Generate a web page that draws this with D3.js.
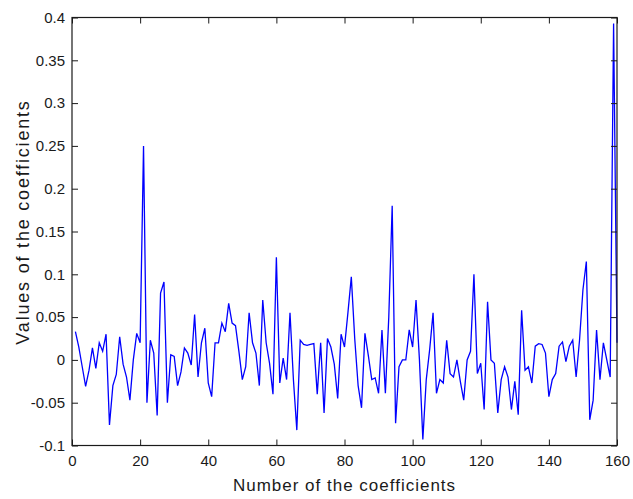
<!DOCTYPE html>
<html><head><meta charset="utf-8">
<script src="https://cdn.jsdelivr.net/npm/d3@7/dist/d3.min.js"></script>
<style>body{margin:0;background:#fff;}</style>
</head><body>
<svg id="chart" width="633" height="499"></svg>
<script>
// Coefficient values, index 1..160
const coefValues = [
 0.033, 0.015,-0.008,-0.031,-0.012, 0.014,-0.010, 0.020, 0.010, 0.030,
-0.076,-0.030,-0.017, 0.027,-0.005,-0.020,-0.047, 0.000, 0.031, 0.020,
 0.250,-0.050, 0.023, 0.008,-0.065, 0.078, 0.091,-0.050, 0.006, 0.004,
-0.030,-0.014, 0.014, 0.008,-0.006, 0.053,-0.020, 0.020, 0.037,-0.027,
-0.043, 0.020, 0.020, 0.043, 0.033, 0.066, 0.043, 0.040, 0.010,-0.023,
-0.008, 0.055, 0.020, 0.008,-0.030, 0.070, 0.020,-0.004,-0.040, 0.120,
-0.027, 0.002,-0.023, 0.055,-0.023,-0.082, 0.023, 0.018, 0.017, 0.018,
 0.019,-0.040, 0.020,-0.062, 0.025, 0.015,-0.005,-0.045, 0.030, 0.015,
 0.055, 0.097, 0.025,-0.030,-0.056, 0.031, 0.005,-0.023,-0.021,-0.039,
 0.035,-0.039, 0.050, 0.180,-0.074,-0.008, 0.000, 0.000, 0.035, 0.015,
 0.070, 0.000,-0.093,-0.023, 0.012, 0.055,-0.039,-0.023,-0.027, 0.023,
-0.016,-0.020, 0.000,-0.025,-0.047, 0.000, 0.010, 0.100,-0.016,-0.004,
-0.058, 0.068, 0.000,-0.004,-0.062,-0.023,-0.008,-0.020,-0.058,-0.025,
-0.064, 0.058,-0.012,-0.008,-0.027, 0.016, 0.019, 0.018, 0.008,-0.043,
-0.023,-0.016, 0.016, 0.021,-0.002, 0.016, 0.023,-0.020, 0.023, 0.082,
 0.115,-0.070,-0.047, 0.035,-0.023, 0.020, 0.000,-0.020, 0.393, 0.020
];
const coefIndex = coefValues.map((v, i) => i + 1);
const xTickValues = [0, 20, 40, 60, 80, 100, 120, 140, 160];
const yTickValues = [-0.1, -0.05, 0, 0.05, 0.1, 0.15, 0.2, 0.25, 0.3, 0.35, 0.4];
const yTickLabels = ["-0.1", "-0.05", "0", "0.05", "0.1", "0.15", "0.2", "0.25", "0.3", "0.35", "0.4"];
const xTitle = "Number of the coefficients";
const yTitle = "Values of the coefficients";

const svg = d3.select("#chart");
const L = 72, R = 617, T = 17.5, B = 445.5;
const x = d3.scaleLinear().domain([0, 160]).range([L, R]);
const y = d3.scaleLinear().domain([-0.1, 0.4]).range([B, T]);
const font = "Liberation Sans, Arial, sans-serif";
const tickLen = 6;
const axisColor = "#1a1a1a";

// data line
const line = d3.line().x((d, i) => x(coefIndex[i])).y(d => y(d));
svg.append("path").datum(coefValues)
  .attr("d", line)
  .attr("fill", "none")
  .attr("stroke", "#0000ff")
  .attr("stroke-width", 1.3)
  .attr("stroke-linejoin", "miter");

// axes
const fmtY = v => yTickLabels[yTickValues.indexOf(v)];
const axB = d3.axisBottom(x).tickValues(xTickValues).tickSizeInner(-tickLen).tickSizeOuter(0).tickPadding(10);
const axT = d3.axisTop(x).tickValues(xTickValues).tickSizeInner(-tickLen).tickSizeOuter(0).tickFormat("");
const axLft = d3.axisLeft(y).tickValues(yTickValues).tickSizeInner(-tickLen).tickSizeOuter(0).tickPadding(7).tickFormat(fmtY);
const axRgt = d3.axisRight(y).tickValues(yTickValues).tickSizeInner(-tickLen).tickSizeOuter(0).tickFormat("");

function style(g) {
  g.select(".domain").remove();
  g.selectAll("line").attr("stroke", axisColor).attr("stroke-width", 1);
  g.selectAll("text").attr("font-family", font).attr("font-size", 15).attr("fill", "#1a1a1a");
}
svg.append("g").attr("transform", `translate(0,${B})`).call(axB).call(style);
svg.append("g").attr("transform", `translate(0,${T})`).call(axT).call(style);
svg.append("g").attr("transform", `translate(${L},0)`).call(axLft).call(style);
svg.append("g").attr("transform", `translate(${R},0)`).call(axRgt).call(style);

// box
svg.append("rect").attr("x", L).attr("y", T).attr("width", R - L).attr("height", B - T)
  .attr("fill", "none").attr("stroke", axisColor).attr("stroke-width", 1.2);

// titles
svg.append("text").attr("x", (L + R) / 2).attr("y", 491)
  .attr("text-anchor", "middle").attr("font-family", font).attr("font-size", 17)
  .attr("letter-spacing", 1).attr("fill", "#1a1a1a").text(xTitle);
svg.append("text").attr("transform", `translate(29,222) rotate(-90)`)
  .attr("text-anchor", "middle").attr("font-family", font).attr("font-size", 18)
  .attr("letter-spacing", 1.8).attr("fill", "#1a1a1a").text(yTitle);
</script>
</body></html>
